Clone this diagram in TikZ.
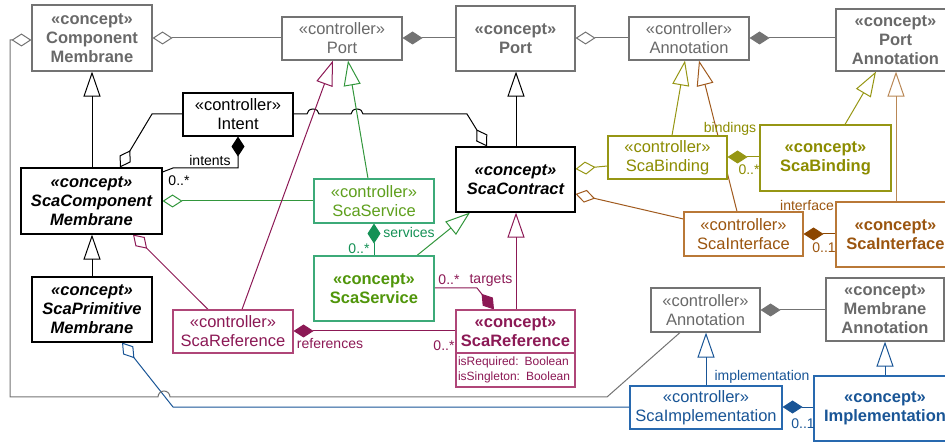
\documentclass[tikz,border=0pt]{standalone}
\usepackage{fontspec}
\setmainfont{Liberation Sans}
\usetikzlibrary{arrows.meta,backgrounds}
\newcommand{\clsfont}{\fontsize{16.5}{19}\selectfont}
\definecolor{gtext}{RGB}{105,105,105}
\definecolor{gline}{RGB}{115,115,115}
\definecolor{grnbox}{RGB}{60,170,120}
\definecolor{grntext}{RGB}{95,160,30}
\definecolor{grnbold}{RGB}{80,150,10}
\definecolor{grnline}{RGB}{50,150,60}
\definecolor{grnsvc}{RGB}{20,145,85}
\definecolor{mar}{RGB}{140,25,85}
\definecolor{marbox}{RGB}{175,70,120}
\definecolor{oli}{RGB}{150,150,20}
\definecolor{olitext}{RGB}{140,140,0}
\definecolor{brn}{RGB}{160,90,30}
\definecolor{brnbox}{RGB}{185,120,55}
\definecolor{brntext}{RGB}{155,85,15}
\definecolor{brndia}{RGB}{140,70,0}
\definecolor{brnlight}{RGB}{185,135,85}
\definecolor{blu}{RGB}{25,85,150}
\definecolor{blubox}{RGB}{40,105,175}
\begin{document}
\begin{tikzpicture}[x=1pt,y=-1pt,
  box/.style={draw,fill=white,inner sep=0pt,align=center,line width=1.1pt,font=\clsfont},
  conc/.style={box,font=\clsfont\bfseries},
  absc/.style={box,font=\clsfont\bfseries\itshape},
  gb/.style={draw=gline,text=gtext},
  kb/.style={draw=black,text=black},
  grnb/.style={draw=grnbox,text=grntext},
  grnc/.style={draw=grnbox,text=grnbold},
  marb/.style={draw=marbox,text=mar},
  olib/.style={draw=oli,text=olitext},
  brnb/.style={draw=brnbox,text=brntext},
  blub/.style={draw=blubox,text=blu},
  lbl/.style={inner sep=0pt,font=\fontsize{14}{16}\selectfont},
  gen/.style={-{Triangle[open,length=25pt,width=17pt]},line width=1pt},
  agg/.style={-{Diamond[open,length=20pt,width=13pt]},line width=1pt},
  comp/.style={-{Diamond[length=20pt,width=13pt]},line width=1pt}]
\useasboundingbox (0,0) rectangle (945,443);

% boxes
\node[conc,gb,minimum width=120pt,minimum height=66pt] (CM) at (92,38) {«concept»\\Component\\Membrane};
\node[box,gb,minimum width=120pt,minimum height=43pt] (ctrlPort) at (342,38.5) {«controller»\\Port};
\node[conc,gb,minimum width=119pt,minimum height=65pt] (Port) at (515.5,38.5) {«concept»\\Port};
\node[box,gb,minimum width=120pt,minimum height=43pt] (AnnA) at (689,38.5) {«controller»\\Annotation};
\node[conc,gb,minimum width=119pt,minimum height=62pt] (PortAnn) at (895.5,40) {«concept»\\Port\\Annotation};
\node[box,kb,minimum width=110pt,minimum height=43pt] (Intent) at (238,114.5) {«controller»\\Intent};
\node[absc,kb,minimum width=141pt,minimum height=66pt] (SCM) at (91.5,201) {«concept»\\ScaComponent\\Membrane};
\node[box,grnb,minimum width=120pt,minimum height=44pt] (ctrlSvc) at (374,201) {«controller»\\ScaService};
\node[absc,kb,minimum width=119pt,minimum height=65pt] (SCon) at (515.5,179.5) {«concept»\\ScaContract};
\node[box,olib,minimum width=119pt,minimum height=43pt] (ctrlBind) at (667.5,157.5) {«controller»\\ScaBinding};
\node[conc,olib,minimum width=131pt,minimum height=66pt] (cBind) at (825.5,158) {«concept»\\ScaBinding};
\node[box,brnb,minimum width=119pt,minimum height=44pt] (ctrlInt) at (743.5,234) {«controller»\\ScaInterface};
\node[conc,brnb,minimum width=119pt,minimum height=65pt] (cInt) at (895.5,234.5) {«concept»\\ScaInterface};
\node[absc,kb,minimum width=120pt,minimum height=65pt] (SPM) at (92,309.5) {«concept»\\ScaPrimitive\\Membrane};
\node[box,marb,minimum width=120pt,minimum height=43pt] (ctrlRef) at (233,331.5) {«controller»\\ScaReference};
\node[conc,grnc,minimum width=120pt,minimum height=65pt] (cSvc) at (374,288.5) {«concept»\\ScaService};
\node[conc,marb,minimum width=119pt,minimum height=43pt] (cRef) at (515.5,331.5) {«concept»\\ScaReference};
\node[box,marb,minimum width=119pt,minimum height=34pt,text width=115pt,align=left,font=\fontsize{12}{15}\selectfont] (cRefAttr) at (515.5,370) {isRequired: Boolean\\isSingleton: Boolean};
\node[box,gb,minimum width=109pt,minimum height=44pt] (AnnB) at (705.5,310) {«controller»\\Annotation};
\node[conc,gb,minimum width=118pt,minimum height=63pt] (MemAnn) at (885,309.5) {«concept»\\Membrane\\Annotation};
\node[box,blub,minimum width=152pt,minimum height=43pt] (ScaImpl) at (706,407.5) {«controller»\\ScaImplementation};
\node[conc,blub,minimum width=142pt,minimum height=65pt] (Impl) at (885,408.5) {«concept»\\Implementation};

\begin{pgfonlayer}{background}
% top row
\draw[agg,gline] (ctrlPort.west |- 0,38) -- (CM.east |- 0,38);
\draw[comp,gline] (Port.west |- 0,38) -- (ctrlPort.east |- 0,38);
\draw[agg,gline] (AnnA.west |- 0,38) -- (Port.east |- 0,38);
\draw[comp,gline] (PortAnn.west |- 0,38) -- (AnnA.east |- 0,38);
% black generalizations
\draw[gen] (SCM.north -| 92,0) -- (CM.south -| 92,0);
\draw[gen] (SPM.north -| 92,0) -- (SCM.south -| 92,0);
\draw[gen] (SCon.north -| 516,0) -- (Port.south -| 516,0);
% intent
\draw[agg] (Intent.west |- 0,114) -- (152,114) -- (SCM.north -| 120,0);
\draw[agg] (Intent.east |- 0,114) -- (307,114) arc[start angle=180,end angle=0,x radius=6pt,y radius=5pt] -- (351,114) arc[start angle=180,end angle=0,x radius=6pt,y radius=5pt] -- (467,114) -- (SCon.north -| 487,0);
\draw[comp] (SCM.east |- 0,172) -- (173,168) -- (238,168) -- (Intent.south -| 238,0);
% SCM links
\draw[agg,grnline] (ctrlSvc.west |- 0,201) -- (SCM.east |- 0,201);
\draw[agg,mar] (ctrlRef.north -| 208,0) -- (SCM.south -| 133,0);
% ctrl port generalizations
\draw[gen,mar] (ctrlRef.north -| 242,0) -- (ctrlPort.south -| 333,0);
\draw[gen,grnline] (ctrlSvc.north -| 368,0) -- (ctrlPort.south -| 348,0);
% services / contract
\draw[comp,grnsvc] (cSvc.north -| 374,0) -- (ctrlSvc.south -| 374,0);
\draw[gen,grnline] (cSvc.north -| 417,0) -- (SCon.south -| 470,0);
\draw[gen,mar] (cRef.north -| 516,0) -- (SCon.south -| 516,0);
\draw[comp,mar] (cSvc.east |- 0,288) -- (477,288) -- (cRef.north -| 494,0);
\draw[comp,mar] (cRef.west |- 0,331) -- (ctrlRef.east |- 0,331);
% bindings / interfaces
\draw[agg,oli] (ctrlBind.west |- 0,166) -- (SCon.east |- 0,169);
\draw[agg,brn] (ctrlInt.west |- 0,219) -- (SCon.east |- 0,194);
\draw[gen,oli] (ctrlBind.north -| 672,0) -- (AnnA.south -| 685,0);
\draw[gen,brn] (ctrlInt.north -| 737,0) -- (AnnA.south -| 699,0);
\draw[comp,oli] (cBind.west |- 0,157) -- (ctrlBind.east |- 0,157);
\draw[gen,oli] (cBind.north -| 845,0) -- (PortAnn.south -| 876,0);
\draw[gen,brnlight] (cInt.north -| 896,0) -- (PortAnn.south -| 896,0);
\draw[comp,brndia] (cInt.west |- 0,234) -- (ctrlInt.east |- 0,234);
% bottom
\draw[comp,gline] (MemAnn.west |- 0,310) -- (AnnB.east |- 0,310);
\draw[gen,blu] (ScaImpl.north -| 706,0) -- (AnnB.south -| 706,0);
\draw[gen,blu] (Impl.north -| 885,0) -- (MemAnn.south -| 885,0);
\draw[comp,blu] (Impl.west |- 0,407) -- (ScaImpl.east |- 0,407);
\draw[agg,blu] (ScaImpl.west |- 0,407) -- (173,407) -- (SPM.south -| 122,0);
\draw[agg,gline] (AnnB.south -| 680,0) -- (607,397) -- (170,397) arc[start angle=0,end angle=180,radius=6pt] -- (10,397) -- (10,40) -- (CM.west |- 0,40);
\end{pgfonlayer}

% labels
\node[lbl] (l1) at (210,160) {intents};
\node[lbl] (l2) at (179,181) {0..*};
\node[lbl,text=grnsvc] (l3) at (409,232) {services};
\node[lbl,text=grnsvc] (l4) at (359,249) {0..*};
\node[lbl,text=mar] (l5) at (449,280) {0..*};
\node[lbl,text=mar] (l6) at (491,280) {targets};
\node[lbl,text=mar] (l7) at (330,344) {references};
\node[lbl,text=mar] (l8) at (444,346) {0..*};
\node[lbl,text=olitext] (l9) at (730,129) {bindings};
\node[lbl,text=olitext] (l10) at (749,170) {0..*};
\node[lbl,text=brntext] (l11) at (807,205) {interface};
\node[lbl,text=brntext] (l12) at (824,248) {0..1};
\node[lbl,text=blu] (l13) at (762,377) {implementation};
\node[lbl,text=blu] (l14) at (803,424) {0..1};
\end{tikzpicture}
\end{document}
